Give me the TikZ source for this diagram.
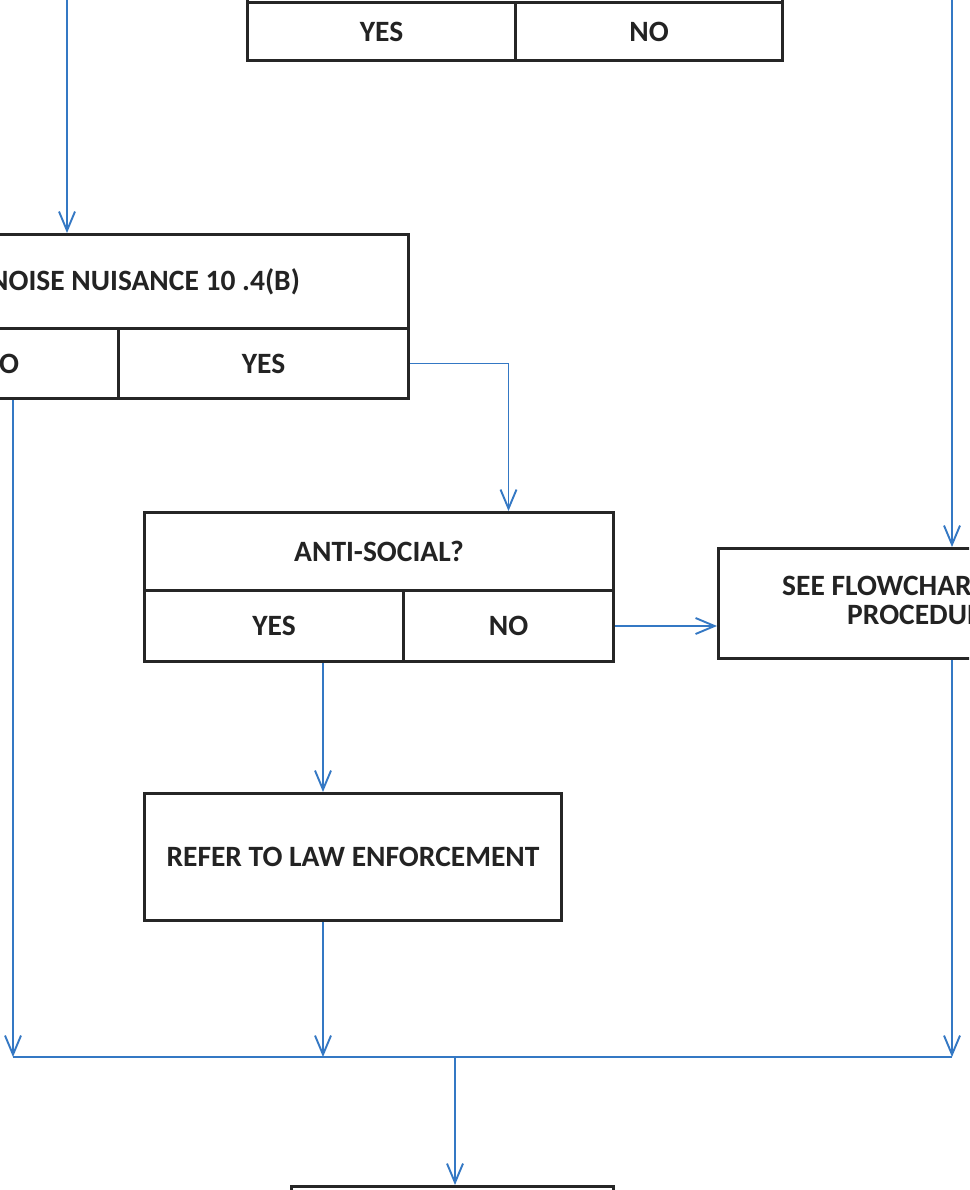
\documentclass[tikz,border=0pt]{standalone}
\usepackage{fontspec}
\setmainfont{Carlito}
\usetikzlibrary{arrows.meta}
\definecolor{ink}{RGB}{38,38,38}
\definecolor{txt}{RGB}{35,35,35}
\definecolor{flowblue}{RGB}{52,120,196}
\tikzset{
  cell/.style={draw=ink, line width=3pt, fill=white, inner sep=0pt,
    anchor=north west, text=txt,
    font=\bfseries\fontsize{29.5}{34}\selectfont},
  label/.style={inner sep=0pt, text=txt, anchor=base west,
    font=\bfseries\fontsize{29.5}{34}\selectfont},
  flow/.style={draw=flowblue, line width=1.9pt,
    -{Straight Barb[length=19pt,width=16pt,line width=1.9pt]}},
  wire/.style={draw=flowblue, line width=1.9pt}
}
\begin{document}
\begin{tikzpicture}[x=1pt,y=-1pt]
\useasboundingbox (0,0) rectangle (969,1190);
\clip (0,0) rectangle (969,1190);
\fill[white] (0,0) rectangle (969,1190);

% routing points
\coordinate (srcL) at (67,-30);
\coordinate (srcR) at (952,-30);
\coordinate (leftx) at (13,0);
\coordinate (midx) at (323,0);
\coordinate (jL) at (13,1057);
\coordinate (jC) at (455,1057);
\coordinate (jR) at (952,1057);

% upper decision
\node[cell, minimum width=535pt, minimum height=61pt] (topq) at (246,-60) {};
\node[cell, minimum width=268pt, minimum height=58pt] (topyes) at (246,1) {YES};
\node[cell, minimum width=267pt, minimum height=58pt] (topno) at (514,1) {NO};

% noise nuisance decision
\node[cell, minimum width=528pt, minimum height=94pt] (noiseq) at (-121,233) {NOISE NUISANCE 10 .4(B)};
\node[cell, minimum width=238pt, minimum height=70pt] (noiseno) at (-121,327) {NO};
\node[cell, minimum width=290pt, minimum height=70pt] (noiseyes) at (117,327) {YES};

% anti-social decision
\node[cell, minimum width=469pt, minimum height=78pt] (antiq) at (143,511) {ANTI-SOCIAL?};
\node[cell, minimum width=259pt, minimum height=71pt] (antiyes) at (143,589) {YES};
\node[cell, minimum width=210pt, minimum height=71pt] (antino) at (402,589) {NO};

% outcomes
\node[cell, minimum width=400pt, minimum height=110pt] (see) at (717,547) {};
\node[label] (seeA) at (782,595) {SEE FLOWCHART};
\node[label] (seeB) at (847,624) {PROCEDURE};
\node[cell, minimum width=417pt, minimum height=127pt] (refer) at (143,792) {REFER TO LAW ENFORCEMENT};
\node[cell, minimum width=322pt, minimum height=80pt] (final) at (290,1185) {};

% connectors
\draw[flow] (srcL) -- (srcL |- noiseq.north);
\draw[flow] (srcR) -- (srcR |- see.north);
\draw[flow] (noiseyes.east) -| (antiq.north -| antino.center);
\draw[flow] (antino.east) -- (antino.east -| see.west);
\draw[flow] (antiyes.south -| midx) -- (refer.north -| midx);
\draw[flow] (leftx |- noiseno.south) -- (jL);
\draw[flow] (refer.south -| midx) -- (jL -| midx);
\draw[flow] (srcR |- see.south) -- (jR);
\draw[wire] (jL) -- (jR);
\draw[flow] (jC) -- (jC |- final.north);
\end{tikzpicture}
\end{document}
